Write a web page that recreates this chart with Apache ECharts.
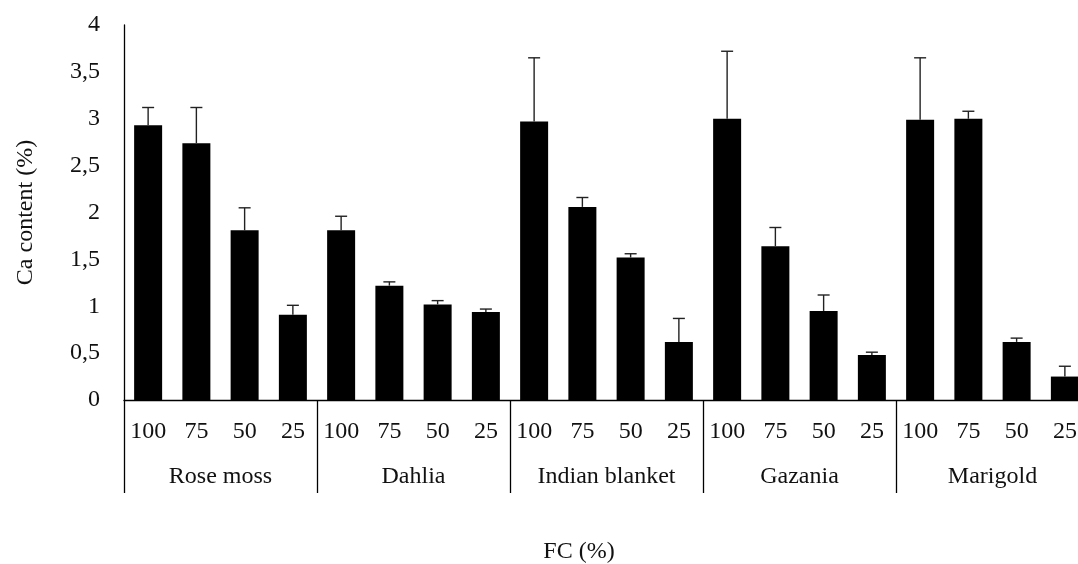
<!DOCTYPE html>
<html>
<head>
<meta charset="utf-8">
<script src="https://cdn.jsdelivr.net/npm/echarts@6/dist/echarts.min.js"></script>
<style>
html,body{margin:0;padding:0;background:#fff;}
#chart{width:1078px;height:564px;}
</style>
</head>
<body>
<div id="chart"></div>
<script>
// ---- data ----
var species = ["Rose moss", "Dahlia", "Indian blanket", "Gazania", "Marigold"];
var fcLevels = ["100", "75", "50", "25"];
var yTicks = ["0", "0,5", "1", "1,5", "2", "2,5", "3", "3,5", "4"];

var roseMossMean      = [2.93, 2.74, 1.81, 0.91];
var dahliaMean        = [1.81, 1.22, 1.02, 0.94];
var indianBlanketMean = [2.97, 2.06, 1.52, 0.62];
var gazaniaMean       = [3.00, 1.64, 0.95, 0.48];
var marigoldMean      = [2.99, 3.00, 0.62, 0.25];

var roseMossErr      = [0.19, 0.38, 0.24, 0.10];
var dahliaErr        = [0.15, 0.04, 0.04, 0.03];
var indianBlanketErr = [0.68, 0.10, 0.04, 0.25];
var gazaniaErr       = [0.72, 0.20, 0.17, 0.03];
var marigoldErr      = [0.66, 0.08, 0.04, 0.11];

// ---- build ----
var means = [].concat(roseMossMean, dahliaMean, indianBlanketMean, gazaniaMean, marigoldMean);
var errs = [].concat(roseMossErr, dahliaErr, indianBlanketErr, gazaniaErr, marigoldErr);
var cats = [];
species.forEach(function (s) { fcLevels.forEach(function (f) { cats.push(f); }); });
var errData = means.map(function (m, i) { return [i, m, +(m + errs[i]).toFixed(3)]; });

var FONT = "'Liberation Serif', 'Times New Roman', serif";
var TXT = "#111";

var chart = echarts.init(document.getElementById('chart'), null, {renderer: 'canvas'});
chart.setOption({
  animation: false,
  backgroundColor: '#fff',
  grid: {left: 124, top: 25, width: 965, height: 375, containLabel: false, outerBoundsMode: 'none'},
  xAxis: [{
    type: 'category',
    data: cats,
    axisLine: {show: true, lineStyle: {color: '#000', width: 1.3}},
    axisTick: {show: false},
    axisLabel: {interval: 0, margin: 20, color: TXT, fontFamily: FONT, fontSize: 24},
    splitLine: {show: false}
  }, {
    type: 'category',
    data: species,
    position: 'bottom',
    axisLine: {show: false},
    axisTick: {show: true, interval: 0, length: 93, lineStyle: {color: '#000', width: 1.3}},
    axisLabel: {interval: 0, margin: 65, color: TXT, fontFamily: FONT, fontSize: 24},
    splitLine: {show: false}
  }],
  yAxis: {
    type: 'value',
    min: 0, max: 4, interval: 0.5,
    name: 'Ca content (%)',
    nameLocation: 'middle',
    nameGap: 86,
    nameRotate: 90,
    nameTextStyle: {color: TXT, fontFamily: FONT, fontSize: 24},
    axisLine: {show: true, lineStyle: {color: '#000', width: 1.3}},
    axisTick: {show: false},
    splitLine: {show: false},
    axisLabel: {
      margin: 24, color: TXT, fontFamily: FONT, fontSize: 24,
      formatter: function (v) { return yTicks[Math.round(v / 0.5)]; }
    }
  },
  graphic: [{
    type: 'text',
    x: 579, y: 552,
    style: {text: 'FC (%)', fill: TXT, font: "24px " + FONT, textAlign: 'center', textVerticalAlign: 'middle'}
  }],
  series: [{
    type: 'bar',
    data: means,
    barWidth: 28,
    itemStyle: {color: '#000'},
    z: 2
  }, {
    type: 'custom',
    data: errData,
    z: 3,
    renderItem: function (params, api) {
      var idx = api.value(0);
      var top = api.coord([idx, api.value(2)]);
      var bot = api.coord([idx, api.value(1)]);
      var hw = 6;
      var st = {stroke: '#222', lineWidth: 1.4};
      return {
        type: 'group',
        children: [
          {type: 'line', shape: {x1: top[0], y1: top[1], x2: bot[0], y2: bot[1]}, style: st},
          {type: 'line', shape: {x1: top[0] - hw, y1: top[1], x2: top[0] + hw, y2: top[1]}, style: st}
        ]
      };
    }
  }]
});
</script>
</body>
</html>
